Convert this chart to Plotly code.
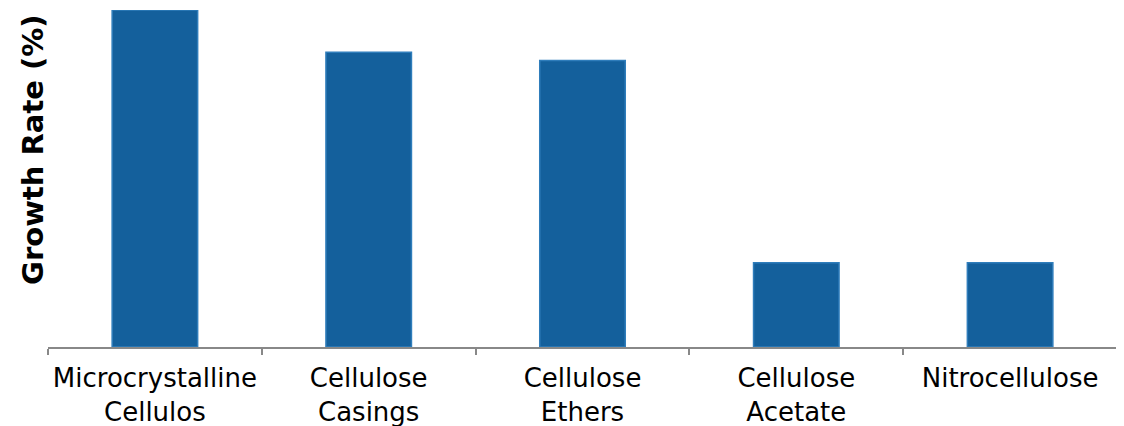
import plotly.graph_objects as go

categories = ["Microcrystalline<br>Cellulos", "Cellulose<br>Casings", "Cellulose<br>Ethers",
              "Cellulose<br>Acetate", "Nitrocellulose"]
growth = [4.0, 3.5, 3.4, 1.0, 1.0]
y_title = "<b>Growth Rate (%)</b>"

fig = go.Figure()
fig.add_trace(go.Bar(
    x=categories, y=growth,
    marker=dict(color="#14609C", line=dict(color="#2F7DBB", width=1.5)),
    width=0.4,
))
fig.update_layout(
    width=1124, height=426,
    margin=dict(l=40, r=15, t=2, b=87),
    plot_bgcolor="white", paper_bgcolor="white",
    showlegend=False,
    font=dict(family="DejaVu Sans, Verdana, sans-serif", color="#000000"),
)
fig.update_xaxes(
    automargin=False,
    showline=True, linecolor="#888888", linewidth=1.5,
    ticks="outside", tickson="boundaries", ticklen=6, tickcolor="#888888", tickwidth=1.5,
    tickfont=dict(size=26, color="#000000"),
    ticklabelstandoff=7,
    showgrid=False, zeroline=False,
)
fig.update_yaxes(
    automargin=False,
    range=[0, 4.0], showticklabels=False, showgrid=False, zeroline=False, showline=False,
)
fig.add_annotation(
    text=y_title, textangle=-90, showarrow=False,
    xref="paper", yref="paper", x=-0.014, y=0.585, xanchor="center", yanchor="middle",
    font=dict(size=29, color="#000000"),
)
fig.write_html("out.html")
